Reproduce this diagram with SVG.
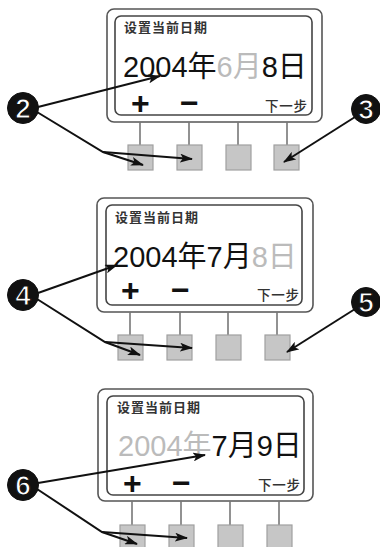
<svg xmlns="http://www.w3.org/2000/svg" width="380" height="547" viewBox="0 0 380 547">
<style>
.outer{fill:#fff;stroke:#555;stroke-width:1.6}
.inner{fill:#fff;stroke:#444;stroke-width:1.6}
.stem{stroke:#777;stroke-width:1.6}
.btn{fill:#c6c6c6;stroke:#a0a0a0;stroke-width:1.2}
.title{font-family:"Liberation Sans","Noto Sans CJK SC",sans-serif;font-size:13px;font-weight:700;fill:#333;letter-spacing:1px}
.date{font-family:"Liberation Sans","Noto Sans CJK SC",sans-serif;font-size:29px;fill:#111}
.dim{fill:#bbb}
.sym{font-family:"Liberation Sans",sans-serif;font-size:32px;font-weight:700;fill:#111}
.next{font-family:"Noto Sans CJK SC",sans-serif;font-size:13.5px;font-weight:500;fill:#333;letter-spacing:0.8px}
.badge circle{fill:#111;stroke:#111}
.badge text{font-family:"Liberation Sans",sans-serif;font-size:28px;font-weight:700;fill:#fff;stroke:#111;stroke-width:1.2;text-anchor:middle}
.arr{fill:none;stroke:#111;stroke-width:2}
</style>
<defs>
<marker id="ah" markerUnits="userSpaceOnUse" markerWidth="13" markerHeight="9" refX="12" refY="4.5" orient="auto">
<path d="M0,0 L13,4.5 L0,9 L3,4.5 z" fill="#111"/>
</marker>
</defs>

<g id="panel1">
<rect class="outer" x="107" y="9" width="215" height="113" rx="7"/>
<rect class="inner" x="115" y="16" width="197" height="99" rx="6"/>
<text class="title" x="124" y="32">设置当前日期</text>
<text class="date" x="123" y="77">2004年<tspan class="dim">6月</tspan>8日</text>
<text class="sym" x="131" y="114">+</text>
<text class="sym" x="180" y="114">−</text>
<text class="next" x="265" y="111">下一步</text>
<line class="stem" x1="140" y1="122" x2="140" y2="145"/>
<line class="stem" x1="189" y1="122" x2="189" y2="145"/>
<line class="stem" x1="238" y1="122" x2="238" y2="145"/>
<line class="stem" x1="287" y1="122" x2="287" y2="145"/>
<g id="p1-btn1"><rect class="btn" x="128" y="145" width="25" height="25"/></g>
<g id="p1-btn2"><rect class="btn" x="177" y="145" width="25" height="25"/></g>
<g id="p1-btn3"><rect class="btn" x="226" y="145" width="25" height="25"/></g>
<g id="p1-btn4"><rect class="btn" x="274" y="145" width="25" height="25"/></g>
</g>

<g id="panel2">
<rect class="outer" x="97" y="198" width="216" height="114" rx="7"/>
<rect class="inner" x="106" y="205" width="196" height="100" rx="6"/>
<text class="title" x="115" y="222">设置当前日期</text>
<text class="date" x="113" y="267">2004年7月<tspan class="dim">8日</tspan></text>
<text class="sym" x="121" y="301">+</text>
<text class="sym" x="171" y="301">−</text>
<text class="next" x="257" y="300">下一步</text>
<line class="stem" x1="130" y1="312" x2="130" y2="335"/>
<line class="stem" x1="180" y1="312" x2="180" y2="335"/>
<line class="stem" x1="228" y1="312" x2="228" y2="335"/>
<line class="stem" x1="277" y1="312" x2="277" y2="335"/>
<g id="p2-btn1"><rect class="btn" x="118" y="335" width="25" height="25"/></g>
<g id="p2-btn2"><rect class="btn" x="167" y="335" width="25" height="25"/></g>
<g id="p2-btn3"><rect class="btn" x="216" y="335" width="25" height="25"/></g>
<g id="p2-btn4"><rect class="btn" x="265" y="335" width="25" height="25"/></g>
</g>

<g id="panel3">
<rect class="outer" x="98" y="389" width="215" height="112" rx="7"/>
<rect class="inner" x="107" y="396" width="197" height="99" rx="6"/>
<text class="title" x="117" y="412">设置当前日期</text>
<text class="date" x="118" y="456"><tspan class="dim">2004年</tspan>7月9日</text>
<text class="sym" x="123" y="494">+</text>
<text class="sym" x="172" y="494">−</text>
<text class="next" x="258" y="490">下一步</text>
<line class="stem" x1="132" y1="501" x2="132" y2="525"/>
<line class="stem" x1="181" y1="501" x2="181" y2="525"/>
<line class="stem" x1="230" y1="501" x2="230" y2="525"/>
<line class="stem" x1="279" y1="501" x2="279" y2="525"/>
<g id="p3-btn1"><rect class="btn" x="120" y="525" width="25" height="25"/></g>
<g id="p3-btn2"><rect class="btn" x="169" y="525" width="25" height="25"/></g>
<g id="p3-btn3"><rect class="btn" x="218" y="525" width="25" height="25"/></g>
<g id="p3-btn4"><rect class="btn" x="267" y="525" width="25" height="25"/></g>
</g>

<g id="connectors">
<path class="arr" d="M38,107 L160,76" marker-end="url(#ah)"/>
<path class="arr" d="M37,112 L103,152 L143,165" marker-end="url(#ah)"/>
<path class="arr" d="M103,152 L192,159" marker-end="url(#ah)"/>
<path class="arr" d="M355,117 L284,162" marker-end="url(#ah)"/>
<path class="arr" d="M38,293 L117,265" marker-end="url(#ah)"/>
<path class="arr" d="M37,299 L105,342 L140,355" marker-end="url(#ah)"/>
<path class="arr" d="M105,342 L192,348" marker-end="url(#ah)"/>
<path class="arr" d="M355,309 L287,352" marker-end="url(#ah)"/>
<path class="arr" d="M38,483 L205,455" marker-end="url(#ah)"/>
<path class="arr" d="M37,489 L102,532 L137,544" marker-end="url(#ah)"/>
<path class="arr" d="M102,532 L187,538" marker-end="url(#ah)"/>
</g>

<g id="badge2" class="badge"><circle cx="23" cy="108" r="15.5"/><text x="23" y="118">2</text></g>
<g id="badge3" class="badge"><circle cx="366" cy="109" r="14.5"/><text x="366" y="119">3</text></g>
<g id="badge4" class="badge"><circle cx="23" cy="295" r="15.5"/><text x="23" y="305">4</text></g>
<g id="badge5" class="badge"><circle cx="366" cy="302" r="14.5"/><text x="366" y="312">5</text></g>
<g id="badge6" class="badge"><circle cx="23" cy="485" r="15.5"/><text x="23" y="495">6</text></g>
</svg>
